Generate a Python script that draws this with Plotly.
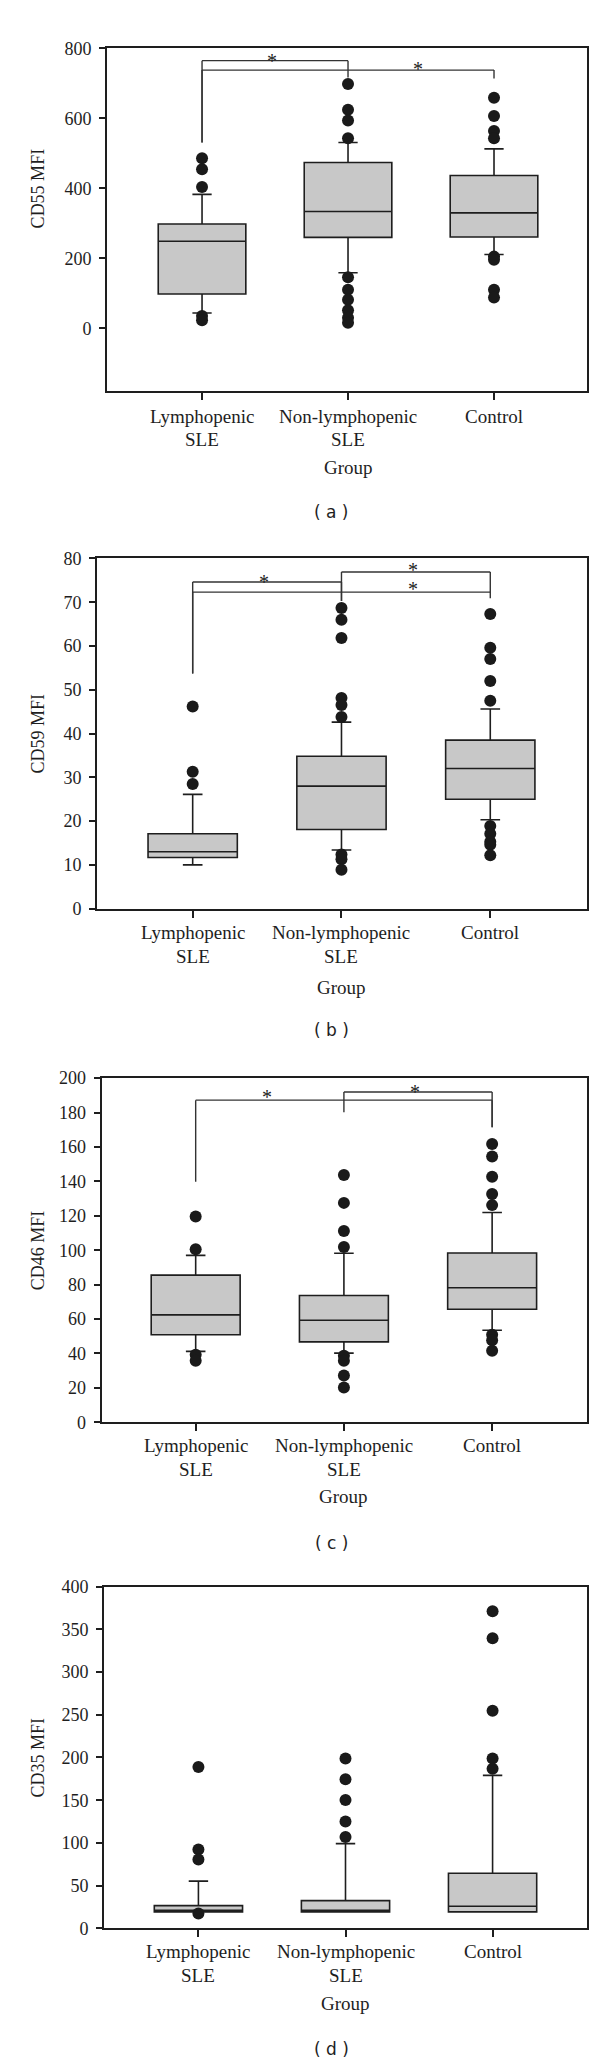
import plotly.graph_objects as go

# ---------------- data ----------------
categories = ["Lymphopenic", "Non-lymphopenic", "Control"]
cat_line1 = ["Lymphopenic", "Non-lymphopenic", "Control"]
cat_line2 = ["SLE", "SLE", ""]
x_title = "Group"

# Panel (a) CD55
a_title = "CD55 MFI"
a_q1 = [98, 260, 261]
a_med = [249, 334, 330]
a_q3 = [298, 474, 437]
a_lo = [44, 159, 211]
a_hi = [383, 531, 513]
a_out_lymph = [486, 455, 404, 35, 23]
a_out_non = [698, 625, 594, 543, 146, 110, 82, 52, 30, 16]
a_out_ctrl = [659, 607, 564, 543, 205, 196, 110, 88]
a_brackets = [(0, 1, 765, 531, 717), (0, 2, 738, 531, 714)]
a_stars = [(0.48, 778), (1.48, 755)]

# Panel (b) CD59
b_title = "CD59 MFI"
b_q1 = [11.7, 18.1, 25.0]
b_med = [13.0, 28.0, 32.0]
b_q3 = [17.1, 34.8, 38.5]
b_lo = [10.0, 13.4, 20.3]
b_hi = [26.1, 42.6, 45.6]
b_out_lymph = [46.2, 31.3, 28.5]
b_out_non = [68.7, 66.0, 61.8, 48.1, 46.5, 43.8, 12.4, 11.3, 8.9]
b_out_ctrl = [67.3, 59.6, 57.0, 52.0, 47.5, 18.9, 17.1, 15.3, 14.6, 12.2]
b_brackets = [(0, 1, 74.6, 53.7, 70.3), (0, 2, 72.3, 53.7, 70.9), (1, 2, 76.9, 70.3, 72.3)]
b_stars = [(0.48, 75.7), (1.48, 78.5), (1.48, 74.2)]

# Panel (c) CD46
c_title = "CD46 MFI"
c_q1 = [50.9, 46.7, 65.7]
c_med = [62.4, 59.3, 78.2]
c_q3 = [85.5, 73.7, 98.4]
c_lo = [41.2, 40.2, 53.5]
c_hi = [97.0, 98.2, 121.9]
c_out_lymph = [119.6, 100.5, 39.3, 35.8]
c_out_non = [143.7, 127.5, 111.2, 101.9, 38.7, 35.8, 27.2, 20.2]
c_out_ctrl = [161.7, 154.5, 142.7, 132.6, 126.2, 50.9, 47.6, 41.6]
c_brackets = [(0, 2, 187.2, 139.8, 171.5), (1, 2, 191.9, 180.2, 171.5)]
c_stars = [(0.48, 192.1), (1.48, 195.0)]

# Panel (d) CD35
d_title = "CD35 MFI"
d_q1 = [19.3, 19.3, 19.3]
d_med = [21.0, 21.2, 25.9]
d_q3 = [26.6, 32.4, 64.5]
d_lo = [19.3, 19.3, 19.3]
d_hi = [55.2, 99.2, 179.1]
d_out_lymph = [188.8, 92.3, 80.7, 17.4]
d_out_non = [198.8, 174.5, 150.2, 125.0, 107.0]
d_out_ctrl = [371.3, 339.7, 254.8, 198.8, 186.8]
d_brackets = []
d_stars = []

captions = ["( a )", "( b )", "( c )", "( d )"]

# ---------------- layout geometry (pixels) ----------------
W, H = 600, 2065
panels = [
    dict(title=a_title, q1=a_q1, med=a_med, q3=a_q3, lo=a_lo, hi=a_hi,
         outs=[a_out_lymph, a_out_non, a_out_ctrl], br=a_brackets, st=a_stars,
         left=99, right=579, top=30.7, bottom=377, yr=[-180, 800], dt=200,
         xr=[-0.651, 2.637], title_mid=400,
         l1=402, l2=426, grp=454, cap=499),
    dict(title=b_title, q1=b_q1, med=b_med, q3=b_q3, lo=b_lo, hi=b_hi,
         outs=[b_out_lymph, b_out_non, b_out_ctrl], br=b_brackets, st=b_stars,
         left=89, right=579, top=545.7, bottom=899.4, yr=[0, 80], dt=10,
         xr=[-0.643, 2.65], title_mid=40,
         l1=923, l2=948, grp=979, cap=1022),
    dict(title=c_title, q1=c_q1, med=c_med, q3=c_q3, lo=c_lo, hi=c_hi,
         outs=[c_out_lymph, c_out_non, c_out_ctrl], br=c_brackets, st=c_stars,
         left=93.7, right=579, top=1070.5, bottom=1418, yr=[0, 200], dt=20,
         xr=[-0.634, 2.64], title_mid=100,
         l1=1441, l2=1465.5, grp=1493, cap=1539.5),
    dict(title=d_title, q1=d_q1, med=d_med, q3=d_q3, lo=d_lo, hi=d_hi,
         outs=[d_out_lymph, d_out_non, d_out_ctrl], br=d_brackets, st=d_stars,
         left=96, right=579, top=1584, bottom=1929, yr=[0, 400], dt=50,
         xr=[-0.642, 2.642], title_mid=200,
         l1=1952.5, l2=1977, grp=2004.5, cap=2050.5),
]

SERIF = "Liberation Serif, Times New Roman, serif"
TXT = "#1e1e1e"
LINE = "#1e1e1e"

def py(p):
    return 1 - p / H

fig = go.Figure()
layout = dict(width=W, height=H, margin=dict(l=0, r=0, t=0, b=0),
              paper_bgcolor="white", plot_bgcolor="white",
              showlegend=False, boxmode="overlay")
annotations = []
shapes = []

for i, p in enumerate(panels):
    n = "" if i == 0 else str(i + 1)
    xa, ya = "x" + n, "y" + n
    xr_, yr_ = "xaxis" + n, "yaxis" + n

    fig.add_trace(go.Box(
        x=[0, 1, 2], q1=p["q1"], median=p["med"], q3=p["q3"],
        lowerfence=p["lo"], upperfence=p["hi"],
        width=0.6, whiskerwidth=0.22, boxpoints=False,
        fillcolor="#c8c8c8", line=dict(color=LINE, width=1.6),
        xaxis=xa, yaxis=ya, hoverinfo="skip"))
    for k, outs in enumerate(p["outs"]):
        fig.add_trace(go.Scatter(
            x=[k] * len(outs), y=outs, mode="markers",
            marker=dict(size=12, color="#1a1a1a"),
            xaxis=xa, yaxis=ya, hoverinfo="skip"))

    layout[xr_] = dict(domain=[p["left"] / W, p["right"] / W], range=p["xr"],
                       anchor=ya, tickvals=[0, 1, 2], showticklabels=False,
                       ticks="outside", ticklen=7, tickwidth=1.5, tickcolor=LINE,
                       showline=True, mirror=True, linecolor=LINE, linewidth=2,
                       showgrid=False, zeroline=False, fixedrange=True)
    layout[yr_] = dict(domain=[py(p["bottom"]), py(p["top"])], range=p["yr"],
                       anchor=xa, tickmode="array",
                       tickvals=list(range(0, p["yr"][1] + 1, p["dt"])),
                       ticks="outside", ticklen=6, tickwidth=1.5, tickcolor=LINE,
                       tickfont=dict(family=SERIF, size=18, color=TXT),
                       ticklabelstandoff=4,
                       showline=True, mirror=True, linecolor=LINE, linewidth=2,
                       showgrid=False, zeroline=False, fixedrange=True)

    # significance brackets
    for (xa0, xb0, yt, ya_b, yb_b) in p["br"]:
        shapes.append(dict(type="line", xref=xa, yref=ya, x0=xa0, x1=xb0, y0=yt, y1=yt,
                           line=dict(color="#333333", width=1.4)))
        shapes.append(dict(type="line", xref=xa, yref=ya, x0=xa0, x1=xa0, y0=yt, y1=ya_b,
                           line=dict(color="#333333", width=1.4)))
        shapes.append(dict(type="line", xref=xa, yref=ya, x0=xb0, x1=xb0, y0=yt, y1=yb_b,
                           line=dict(color="#333333", width=1.4)))
    for (sx, sy) in p["st"]:
        annotations.append(dict(text="*", x=sx, y=sy, xref=xa, yref=ya, showarrow=False,
                                xanchor="center", yanchor="middle", yshift=-5,
                                font=dict(family=SERIF, size=20, color="#222222")))

    # category labels
    for k in range(3):
        annotations.append(dict(text=cat_line1[k], x=k, y=py(p["l1"]), xref=xa, yref="paper",
                                showarrow=False, xanchor="center", yanchor="middle",
                                font=dict(family=SERIF, size=19, color=TXT)))
        if cat_line2[k]:
            annotations.append(dict(text=cat_line2[k], x=k, y=py(p["l2"]), xref=xa, yref="paper",
                                    showarrow=False, xanchor="center", yanchor="middle",
                                    font=dict(family=SERIF, size=19, color=TXT)))
    annotations.append(dict(text=x_title, x=1, y=py(p["grp"]), xref=xa, yref="paper",
                            showarrow=False, xanchor="center", yanchor="middle",
                            font=dict(family=SERIF, size=19, color=TXT)))
    # y title
    y0, y1 = p["yr"]
    frac = (p["title_mid"] - y0) / (y1 - y0)
    ty = p["bottom"] - frac * (p["bottom"] - p["top"])
    annotations.append(dict(text=p["title"], x=30 / W, y=py(ty), xref="paper", yref="paper",
                            showarrow=False, textangle=-90, xanchor="center", yanchor="middle",
                            font=dict(family=SERIF, size=18, color=TXT)))
    # caption
    annotations.append(dict(text=captions[i], x=323 / W, y=py(p["cap"]), xref="paper", yref="paper",
                            showarrow=False, xanchor="center", yanchor="middle",
                            font=dict(family="DejaVu Sans", size=17, color=TXT)))

layout["annotations"] = annotations
layout["shapes"] = shapes
fig.update_layout(**layout)
fig.write_html("out.html")
